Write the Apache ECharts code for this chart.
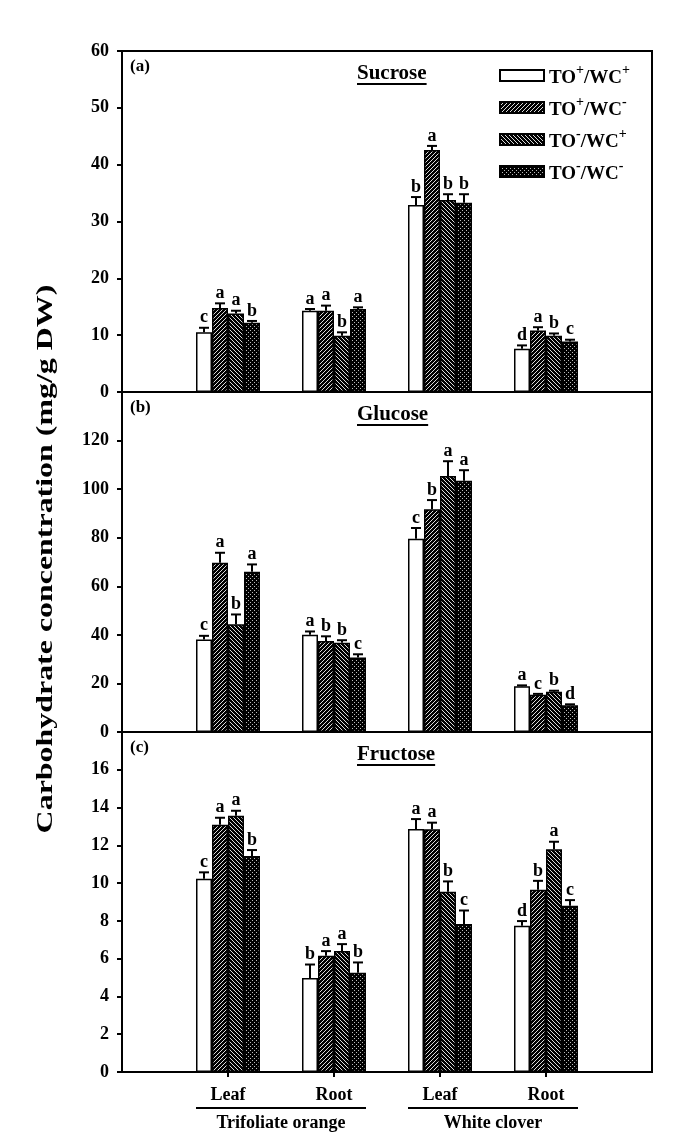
<!DOCTYPE html>
<html><head><meta charset="utf-8">
<script src="https://cdn.jsdelivr.net/npm/echarts@6/dist/echarts.min.js"></script>
<style>html,body{margin:0;padding:0;background:#fff}#c{width:681px;height:1135px}</style>
</head><body><div id="c"></div>
<script>
// ---------- data ----------
const categories = ['Leaf', 'Root', 'Leaf', 'Root'];
const species = ['Trifoliate orange', 'White clover'];
const treatments = ['TO+/WC+', 'TO+/WC-', 'TO-/WC+', 'TO-/WC-'];
const panelTitles = ['Sucrose', 'Glucose', 'Fructose'];
const panelTags = ['(a)', '(b)', '(c)'];
const yAxisTitle = 'Carbohydrate concentration (mg/g DW)';
const yMax = [60, 140, 18];
const yStep = [10, 20, 2];

// rows: treatments, cols: TO Leaf, TO Root, WC Leaf, WC Root
const sucroseMean = [[10.5, 14.3, 32.9, 7.6], [14.8, 14.3, 42.6, 10.8], [13.8, 9.9, 33.8, 9.9], [12.2, 14.6, 33.3, 8.9]];
const sucroseErr = [[0.8, 0.3, 1.4, 0.6], [0.8, 0.9, 0.7, 0.6], [0.5, 0.6, 1.0, 0.4], [0.3, 0.3, 1.5, 0.3]];
const sucroseLetters = [['c', 'a', 'b', 'd'], ['a', 'a', 'a', 'a'], ['a', 'b', 'b', 'b'], ['b', 'a', 'b', 'c']];

const glucoseMean = [[38.1, 40.0, 79.6, 18.8], [69.7, 37.5, 91.7, 15.3], [44.4, 36.7, 105.4, 16.6], [66.0, 30.7, 103.5, 11.0]];
const glucoseErr = [[1.5, 1.4, 4.4, 0.4], [4.1, 1.9, 3.8, 0.4], [4.0, 1.1, 6.1, 0.4], [3.0, 1.3, 4.3, 0.4]];
const glucoseLetters = [['c', 'a', 'c', 'a'], ['a', 'b', 'b', 'c'], ['b', 'b', 'a', 'b'], ['a', 'c', 'a', 'd']];

const fructoseMean = [[10.23, 4.98, 12.86, 7.74], [13.09, 6.15, 12.85, 9.65], [13.57, 6.41, 9.54, 11.79], [11.43, 5.25, 7.83, 8.80]];
const fructoseErr = [[0.34, 0.71, 0.53, 0.25], [0.37, 0.25, 0.35, 0.47], [0.26, 0.36, 0.55, 0.40], [0.32, 0.55, 0.72, 0.30]];
const fructoseLetters = [['c', 'b', 'a', 'd'], ['a', 'a', 'a', 'b'], ['a', 'a', 'b', 'a'], ['b', 'b', 'c', 'c']];

// ---------- assembly ----------
const means = [sucroseMean, glucoseMean, fructoseMean];
const errs = [sucroseErr, glucoseErr, fructoseErr];
const letters = [sucroseLetters, glucoseLetters, fructoseLetters];
const axisCats = [''].concat(categories, ['']);

const FONT = '"Liberation Serif", "Times New Roman", serif';
const BAR_W = 16;

function makePattern(kind) {
  if (kind === 'white') return '#fff';
  const c = document.createElement('canvas');
  const s = 4;
  c.width = s; c.height = s;
  const g = c.getContext('2d');
  g.fillStyle = '#000'; g.fillRect(0, 0, s, s);
  if (kind === 'dots') {
    g.fillStyle = '#bdbdbd';
    g.fillRect(0, 0, 1, 1); g.fillRect(2, 2, 1, 1);
  } else {
    g.strokeStyle = '#dcdcdc'; g.lineWidth = 1;
    g.beginPath();
    if (kind === 'fwd') {
      g.moveTo(-1, s + 1); g.lineTo(s + 1, -1);
      g.moveTo(-2, 1); g.lineTo(1, -2);
      g.moveTo(s - 1, s + 2); g.lineTo(s + 2, s - 1);
    } else {
      g.moveTo(-1, -1); g.lineTo(s + 1, s + 1);
      g.moveTo(-2, s - 1); g.lineTo(1, s + 2);
      g.moveTo(s - 1, -2); g.lineTo(s + 2, 1);
    }
    g.stroke();
  }
  return { image: c, repeat: 'repeat' };
}
const fills = [makePattern('white'), makePattern('fwd'), makePattern('back'), makePattern('dots')];

const gridTops = [51, 392, 732];
const gridHeights = [341, 340, 340];
const grids = [], xAxes = [], yAxes = [], series = [];
for (let p = 0; p < 3; p++) {
  grids.push({ left: 122, right: 29, top: gridTops[p], height: gridHeights[p], show: true, borderColor: '#000', borderWidth: 2, backgroundColor: 'transparent' });
  xAxes.push({
    type: 'category', gridIndex: p, data: axisCats, boundaryGap: false,
    axisLine: { lineStyle: { color: '#000', width: 2 } },
    axisTick: { show: p === 2, length: 5, lineStyle: { color: '#000', width: 2 }, interval: (i) => i > 0 && i < axisCats.length - 1 },
    axisLabel: { show: p === 2, interval: 0, margin: 14, color: '#000', fontFamily: FONT, fontWeight: 'bold', fontSize: 18 },
    splitLine: { show: false }
  });
  yAxes.push({
    type: 'value', gridIndex: p, min: 0, max: yMax[p], interval: yStep[p],
    axisLine: { show: true, lineStyle: { color: '#000', width: 2 } },
    axisTick: { show: true, length: 5, lineStyle: { color: '#000', width: 2 } },
    axisLabel: { color: '#000', fontFamily: FONT, fontWeight: 'bold', fontSize: 18, margin: 13, showMaxLabel: p === 0 },
    splitLine: { show: false }
  });
  for (let t = 0; t < 4; t++) {
    series.push({
      type: 'bar', name: treatments[t], xAxisIndex: p, yAxisIndex: p,
      data: ['-'].concat(means[p][t], ['-']),
      barWidth: BAR_W, barGap: '0%',
      itemStyle: { color: fills[t], borderColor: '#000', borderWidth: 1.5 },
      emphasis: { disabled: true }, z: 2
    });
  }
  for (let t = 0; t < 4; t++) {
    series.push({
      type: 'custom', xAxisIndex: p, yAxisIndex: p, z: 5, silent: true,
      data: means[p][t].map((v, i) => [i + 1, v, errs[p][t][i]]),
      renderItem: function (params, api) {
        const x = api.value(0), v = api.value(1), e = api.value(2);
        const b = api.coord([x, v]);
        const tp = api.coord([x, v + e]);
        const cx = b[0] + (t - 1.5) * BAR_W;
        const letter = letters[p][t][params.dataIndex];
        return {
          type: 'group', children: [
            { type: 'line', shape: { x1: cx, y1: b[1], x2: cx, y2: tp[1] }, style: { stroke: '#000', lineWidth: 2 } },
            { type: 'line', shape: { x1: cx - 5, y1: tp[1], x2: cx + 5, y2: tp[1] }, style: { stroke: '#000', lineWidth: 2 } },
            { type: 'text', x: cx, y: tp[1] - 1, style: { text: letter, fill: '#000', font: 'bold 18px ' + FONT, align: 'center', verticalAlign: 'bottom' } }
          ]
        };
      }
    });
  }
}

function legendFmt(name) {
  const m = name.match(/^TO([+-])\/WC([+-])$/);
  return '{n|TO}{s|' + m[1] + '}{n|/WC}{s|' + m[2] + '}';
}

const chart = echarts.init(document.getElementById('c'), null, { renderer: 'canvas' });
chart.setOption({
  animation: false,
  backgroundColor: '#fff',
  grid: grids, xAxis: xAxes, yAxis: yAxes, series: series,
  legend: {
    data: treatments, orient: 'vertical', left: 499, top: 63, padding: 0, icon: 'rect',
    itemWidth: 44, itemHeight: 11, itemGap: 7, selectedMode: false,
    formatter: legendFmt,
    textStyle: {
      color: '#000', fontFamily: FONT, fontWeight: 'bold', fontSize: 19,
      rich: {
        n: { fontFamily: FONT, fontWeight: 'bold', fontSize: 19, color: '#000', verticalAlign: 'bottom', padding: [6, 0, 0, 0] },
        s: { fontFamily: FONT, fontWeight: 'bold', fontSize: 14, color: '#000', verticalAlign: 'top' }
      }
    }
  }
});

// ---------- annotations placed from the axes ----------
const mctx = document.createElement('canvas').getContext('2d');
const graphics = [];
for (let p = 0; p < 3; p++) {
  const top = gridTops[p];
  const tFont = 'bold 21px ' + FONT;
  mctx.font = tFont;
  const w = mctx.measureText(panelTitles[p]).width;
  const x0 = 357;
  graphics.push({ type: 'text', left: x0, top: top + 12, style: { text: panelTitles[p], font: tFont, fill: '#000' }, z: 10 });
  graphics.push({ type: 'line', shape: { x1: x0, y1: top + 33, x2: x0 + w, y2: top + 33 }, style: { stroke: '#000', lineWidth: 2 }, z: 10 });
  graphics.push({ type: 'text', left: 130, top: top + 7, style: { text: panelTags[p], font: 'bold 17px ' + FONT, fill: '#000' }, z: 10 });
}
// y-axis title (elongated along its length like the reference)
graphics.push({ type: 'text', x: 46, y: 559, rotation: Math.PI / 2, scaleX: 1.33, style: { text: yAxisTitle, font: 'bold 24px ' + FONT, fill: '#000', align: 'center', verticalAlign: 'middle' } });
// species brackets under the bottom axis
const baseY = chart.convertToPixel({ yAxisIndex: 2 }, 0);
for (let s = 0; s < 2; s++) {
  const xa = chart.convertToPixel({ xAxisIndex: 2 }, 1 + 2 * s);
  const xb = chart.convertToPixel({ xAxisIndex: 2 }, 2 + 2 * s);
  const l = xa - 2 * BAR_W, r = xb + 2 * BAR_W;
  graphics.push({ type: 'line', shape: { x1: l, y1: baseY + 36, x2: r, y2: baseY + 36 }, style: { stroke: '#000', lineWidth: 2 } });
  graphics.push({ type: 'text', x: (l + r) / 2, y: baseY + 42, style: { text: species[s], font: 'bold 18px ' + FONT, fill: '#000', align: 'center', verticalAlign: 'top' } });
}
chart.setOption({ graphic: graphics });
</script>
</body></html>
